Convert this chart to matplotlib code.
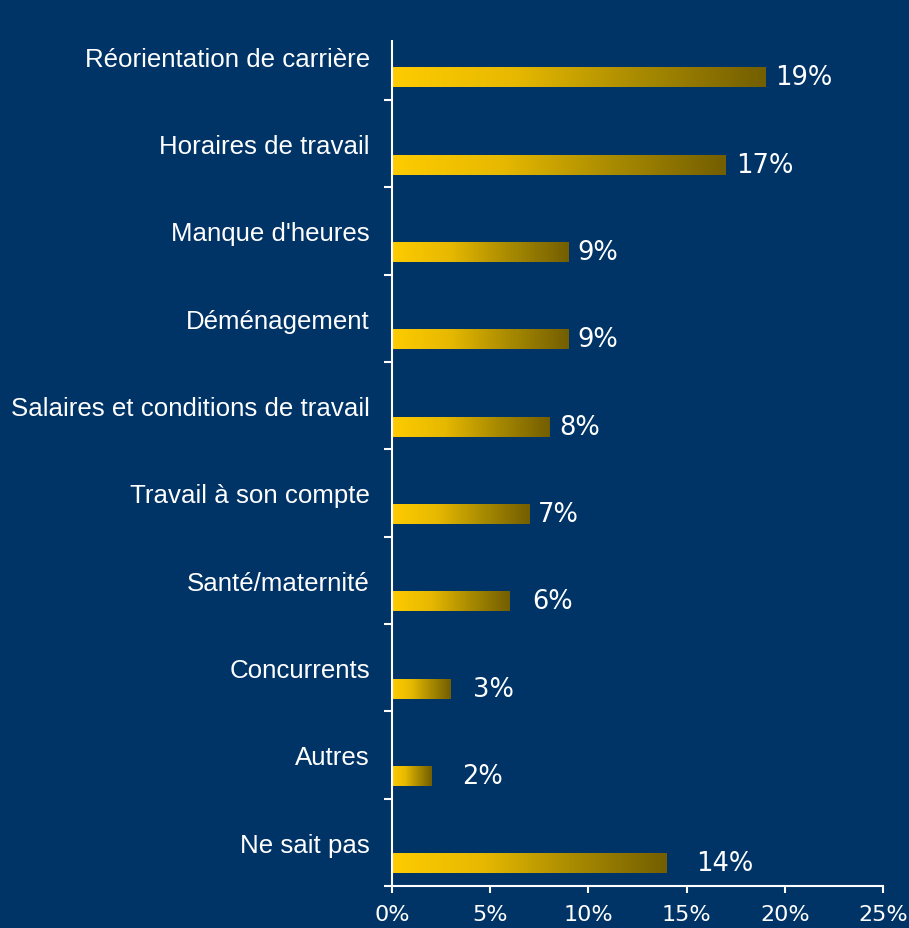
import numpy as np
import matplotlib
matplotlib.use("Agg")
import matplotlib.pyplot as plt
from matplotlib.colors import LinearSegmentedColormap

# Raisons de départ (en %)
categories = [
    "Réorientation de carrière",
    "Horaires de travail",
    "Manque d'heures",
    "Déménagement",
    "Salaires et conditions de travail",
    "Travail à son compte",
    "Santé/maternité",
    "Concurrents",
    "Autres",
    "Ne sait pas",
]
values = [19, 17, 9, 9, 8, 7, 6, 3, 2, 14]
value_labels = ["19%", "17%", "9%", "9%", "8%", "7%", "6%", "3%", "2%", "14%"]
x_ticks = [0, 5, 10, 15, 20, 25]
x_tick_labels = ["0%", "5%", "10%", "15%", "20%", "25%"]

# label gap after each bar, in pixels
label_gap = [10, 10, 9, 9, 10, 8, 22, 22, 31, 29]

BG = "#003366"
gold = LinearSegmentedColormap.from_list("gold", ["#FFCC00", "#E6B800", "#A88A00", "#735E00"])

fig = plt.figure(figsize=(9.09, 9.29), dpi=100, facecolor=BG)
ax = fig.add_axes([392 / 909, (929 - 887) / 929, (883 - 392) / 909, (887 - 42) / 929])
ax.set_facecolor(BG)

pos = np.arange(len(categories))
bar_offset = 0.24
bar_h = 0.23
bars = ax.barh(pos + bar_offset, values, height=bar_h, color="none", edgecolor="none")

grad = np.linspace(0, 1, 256).reshape(1, -1)
for b in bars:
    x0, y0 = b.get_x(), b.get_y()
    w, h = b.get_width(), b.get_height()
    im = ax.imshow(grad, cmap=gold, aspect="auto", interpolation="bicubic",
                   extent=(x0, x0 + w, y0 + h, y0), zorder=2)
    im.set_clip_path(b)

ax.set_xlim(0, 25)
ax.set_ylim(len(categories) - 0.5, -0.175)

for i, (v, lab) in enumerate(zip(values, value_labels)):
    ax.annotate(lab, xy=(v, i + bar_offset), xytext=(label_gap[i] * 0.72, 0),
                textcoords="offset points", ha="left", va="center",
                color="white", fontsize=18.5, family="DejaVu Sans", zorder=3)

# Category labels at band centres, tick marks at band boundaries
ax.set_yticks(pos)
ax.set_yticklabels(categories, fontsize=18.6, family="Liberation Sans", color="white")
ax.tick_params(axis="y", which="major", length=0, pad=16)
ax.set_yticks(np.arange(0.5, len(categories), 1.0), minor=True)
ax.tick_params(axis="y", which="minor", length=6, width=1.5, color="white", direction="out")

ax.set_xticks(x_ticks)
ax.set_xticklabels(x_tick_labels, fontsize=16, family="DejaVu Sans", color="white")
ax.tick_params(axis="x", length=5, width=1.5, color="white", direction="out", pad=8)

for side in ("top", "right"):
    ax.spines[side].set_visible(False)
for side in ("left", "bottom"):
    ax.spines[side].set_color("white")
    ax.spines[side].set_linewidth(1.5)

fig.savefig("out.png", dpi=100, facecolor=BG)
